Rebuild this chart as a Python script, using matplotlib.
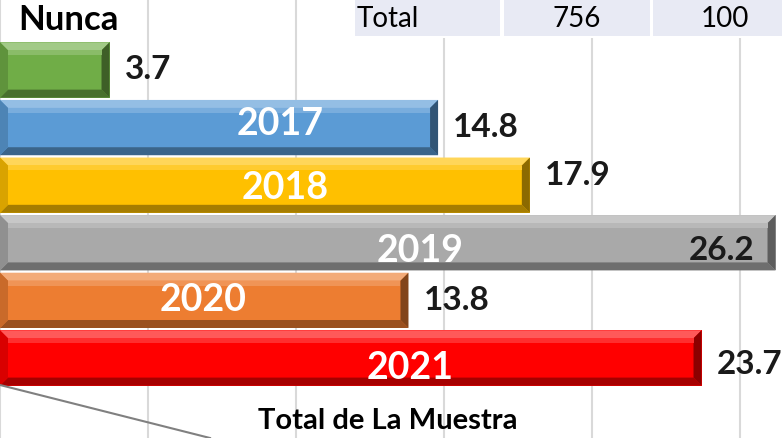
import numpy as np
import matplotlib.pyplot as plt
from matplotlib.patches import Polygon, Rectangle
from matplotlib.colors import to_rgb
from matplotlib.lines import Line2D

categorias = ["Nunca", "2017", "2018", "2019", "2020", "2021"]
valores = [3.7, 14.8, 17.9, 26.2, 13.8, 23.7]
cores = ["#70AD47", "#5B9BD5", "#FFC000", "#A9A9A9", "#ED7D31", "#FF0000"]
tabela = ["Total", "756", "100"]
titulo_eixo = "Total de La Muestra"

# posicao (x em dados, deslocamento y) dos rotulos dentro das barras
pos_rotulo = [None, (9.45, -0.07), (9.65, 0.05), (14.2, 0.14), (6.85, 0.0), (13.85, 0.17)]
desl_valor = [0, 0, -0.17, 0, 0, 0.12]

FONTE = ["Lato", "DejaVu Sans"]

W, H = 782, 438
PX = 29.6  # pixels por unidade


def mistura(cor, alvo, t):
    c = np.array(to_rgb(cor))
    return tuple(c + (np.array(alvo) - c) * t)


fig = plt.figure(figsize=(W / 100, H / 100), dpi=100)
ax = fig.add_axes([0, 0, 1, 1])
ax.set_xlim(0, W / PX)
ax.set_ylim(6.39, -70 / 57.6)
ax.axis("off")

for g in range(0, 30, 5):
    ax.axvline(g, color="#D9D9D9", lw=1.5, zorder=0)

y = np.arange(len(valores))
alt = 0.96
bx = 8 / PX       # largura do bisel em x
by = 8 / 57.6     # largura do bisel em y

for i, (v, c) in enumerate(zip(valores, cores)):
    y0, y1 = y[i] - alt / 2, y[i] + alt / 2
    ax.barh(y[i], v, height=alt, color=c, zorder=2)
    # bisel: topo claro, base escura, pontas sombreadas
    ax.add_patch(Polygon([(0, y0), (v, y0), (v - bx, y0 + by), (bx, y0 + by)],
                         color=mistura(c, (1, 1, 1), 0.35), lw=0, zorder=3))
    ax.add_patch(Polygon([(0, y1), (v, y1), (v - bx, y1 - by), (bx, y1 - by)],
                         color=mistura(c, (0, 0, 0), 0.35), lw=0, zorder=3))
    ax.add_patch(Polygon([(0, y0), (bx, y0 + by), (bx, y1 - by), (0, y1)],
                         color=mistura(c, (0, 0, 0), 0.15), lw=0, zorder=3))
    ax.add_patch(Polygon([(v, y0), (v - bx, y0 + by), (v - bx, y1 - by), (v, y1)],
                         color=mistura(c, (0, 0, 0), 0.45), lw=0, zorder=3))
    # faixa de brilho
    ax.add_patch(Rectangle((bx, y0 + by), v - 2 * bx, by * 0.6,
                           color=mistura(c, (1, 1, 1), 0.18), lw=0, zorder=3))

    if i == 3:
        ax.text(v - 0.7, y[i] + 0.14, f"{v}", ha="right", va="center",
                fontsize=24, fontweight="bold", color="#1a1a1a", family=FONTE, zorder=5)
    else:
        ax.annotate(f"{v}", (v, y[i] + desl_valor[i]), xytext=(11, 0),
                    textcoords="offset points", ha="left", va="center",
                    fontsize=24, fontweight="bold", color="#1a1a1a", family=FONTE, zorder=5)
    if pos_rotulo[i] is not None:
        px, dy = pos_rotulo[i]
        ax.text(px, y[i] + dy, categorias[i], ha="center", va="center",
                fontsize=27, fontweight="bold", color="white", family=FONTE, zorder=5)

fig.text(18 / W, 1 - 20 / H, categorias[0], ha="left", va="center",
         fontsize=25, fontweight="bold", color="black", family=FONTE)

# linha de tabela no topo (cobre as linhas de grade)
celulas = [(355, 500), (504, 650), (653, 782)]
for (a, b), t in zip(celulas, tabela):
    fig.patches.append(Rectangle((a / W, 1 - 36 / H), (b - a) / W, 36 / H,
                                 transform=fig.transFigure, color="#E8EAF4", lw=0))
    fig.patches.append(Rectangle((a / W, 1 - 38 / H), (b - a) / W, 2 / H,
                                 transform=fig.transFigure, color="white", lw=0))
for t, xp, ha in zip(tabela, [357, 577, 725], ["left", "center", "center"]):
    fig.text(xp / W, 1 - 19 / H, t, ha=ha, va="center", fontsize=20,
             color="black", family=FONTE)

fig.text(388 / W, 1 - 421 / H, titulo_eixo, ha="center", va="center",
         fontsize=21, fontweight="bold", color="black", family=FONTE)

fig.add_artist(Line2D([0, 210 / W], [1 - 385 / H, 0], color="#808080", lw=1.5,
                      transform=fig.transFigure))

fig.savefig("out.png", dpi=100)
